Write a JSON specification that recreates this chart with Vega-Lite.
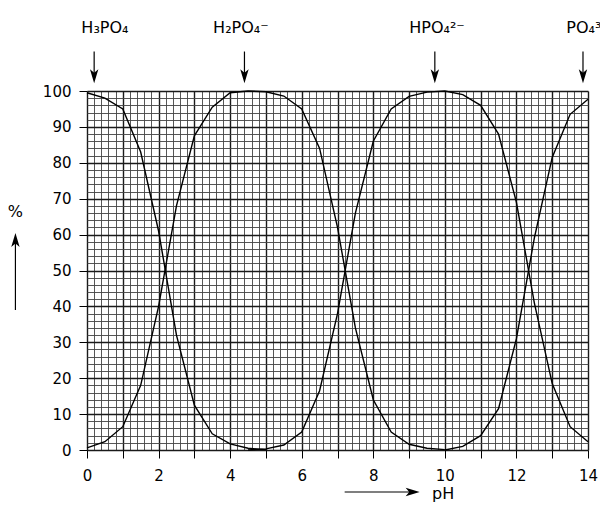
{
  "$schema": "https://vega.github.io/schema/vega-lite/v6.json",
  "autosize": {"type": "none"},
  "padding": {"left": 87, "top": 91, "right": 12, "bottom": 64},
  "width": 501,
  "height": 359,
  "background": "white",
  "config": {"view": {"stroke": null}, "font": "DejaVu Sans"},
  "datasets": {
    "curves": [
      {"species": "H3PO4", "pH": 0, "pct": 99.5},
      {"species": "H3PO4", "pH": 0.5, "pct": 98},
      {"species": "H3PO4", "pH": 1, "pct": 95},
      {"species": "H3PO4", "pH": 1.5, "pct": 83},
      {"species": "H3PO4", "pH": 2, "pct": 61},
      {"species": "H3PO4", "pH": 2.5, "pct": 32},
      {"species": "H3PO4", "pH": 3, "pct": 12.5},
      {"species": "H3PO4", "pH": 3.5, "pct": 4.5},
      {"species": "H3PO4", "pH": 4, "pct": 1.7},
      {"species": "H3PO4", "pH": 4.5, "pct": 0.5},
      {"species": "H3PO4", "pH": 5, "pct": 0.1},
      {"species": "H2PO4", "pH": 0, "pct": 0.6},
      {"species": "H2PO4", "pH": 0.5, "pct": 2.3},
      {"species": "H2PO4", "pH": 1, "pct": 6.5},
      {"species": "H2PO4", "pH": 1.5, "pct": 18},
      {"species": "H2PO4", "pH": 2, "pct": 40},
      {"species": "H2PO4", "pH": 2.5, "pct": 68},
      {"species": "H2PO4", "pH": 3, "pct": 87.5},
      {"species": "H2PO4", "pH": 3.5, "pct": 95.5},
      {"species": "H2PO4", "pH": 4, "pct": 99.5},
      {"species": "H2PO4", "pH": 4.5, "pct": 100},
      {"species": "H2PO4", "pH": 5, "pct": 99.8},
      {"species": "H2PO4", "pH": 5.5, "pct": 98.6},
      {"species": "H2PO4", "pH": 6, "pct": 95},
      {"species": "H2PO4", "pH": 6.5, "pct": 84},
      {"species": "H2PO4", "pH": 7, "pct": 62},
      {"species": "H2PO4", "pH": 7.5, "pct": 34},
      {"species": "H2PO4", "pH": 8, "pct": 14},
      {"species": "H2PO4", "pH": 8.5, "pct": 5},
      {"species": "H2PO4", "pH": 9, "pct": 1.6},
      {"species": "H2PO4", "pH": 9.5, "pct": 0.5},
      {"species": "H2PO4", "pH": 10, "pct": 0.1},
      {"species": "HPO4", "pH": 4.5, "pct": 0},
      {"species": "HPO4", "pH": 5, "pct": 0.3},
      {"species": "HPO4", "pH": 5.5, "pct": 1.4},
      {"species": "HPO4", "pH": 6, "pct": 5},
      {"species": "HPO4", "pH": 6.5, "pct": 16.5},
      {"species": "HPO4", "pH": 7, "pct": 38},
      {"species": "HPO4", "pH": 7.5, "pct": 66},
      {"species": "HPO4", "pH": 8, "pct": 86},
      {"species": "HPO4", "pH": 8.5, "pct": 95},
      {"species": "HPO4", "pH": 9, "pct": 98.5},
      {"species": "HPO4", "pH": 9.5, "pct": 99.7},
      {"species": "HPO4", "pH": 10, "pct": 100},
      {"species": "HPO4", "pH": 10.5, "pct": 99},
      {"species": "HPO4", "pH": 11, "pct": 96},
      {"species": "HPO4", "pH": 11.5, "pct": 88},
      {"species": "HPO4", "pH": 12, "pct": 69},
      {"species": "HPO4", "pH": 12.5, "pct": 41},
      {"species": "HPO4", "pH": 13, "pct": 18.5},
      {"species": "HPO4", "pH": 13.5, "pct": 6.5},
      {"species": "HPO4", "pH": 14, "pct": 2.3},
      {"species": "PO4", "pH": 10, "pct": 0},
      {"species": "PO4", "pH": 10.5, "pct": 1},
      {"species": "PO4", "pH": 11, "pct": 4},
      {"species": "PO4", "pH": 11.5, "pct": 11.5},
      {"species": "PO4", "pH": 12, "pct": 31},
      {"species": "PO4", "pH": 12.5, "pct": 59},
      {"species": "PO4", "pH": 13, "pct": 81.5},
      {"species": "PO4", "pH": 13.5, "pct": 93.5},
      {"species": "PO4", "pH": 14, "pct": 97.7}
    ],
    "labels": [
      {"name": "H₃PO₄", "label_pH": 0.5, "arrow_pH": 0.2},
      {"name": "H₂PO₄⁻", "label_pH": 4.3, "arrow_pH": 4.4},
      {"name": "HPO₄²⁻", "label_pH": 9.78, "arrow_pH": 9.72},
      {"name": "PO₄³⁻", "label_pH": 14.0, "arrow_pH": 13.86}
    ]
  },
  "layer": [
    {
      "data": {"name": "curves"},
      "mark": {"type": "line", "color": "black", "strokeWidth": 1.4, "clip": false},
      "encoding": {
        "x": {
          "field": "pH", "type": "quantitative", "title": null,
          "scale": {"domain": [0, 14], "nice": false, "zero": false},
          "axis": {
            "values": [0,0.2,0.4,0.6,0.8,1,1.2,1.4,1.6,1.8,2,2.2,2.4,2.6,2.8,3,3.2,3.4,3.6,3.8,4,4.2,4.4,4.6,4.8,5,5.2,5.4,5.6,5.8,6,6.2,6.4,6.6,6.8,7,7.2,7.4,7.6,7.8,8,8.2,8.4,8.6,8.8,9,9.2,9.4,9.6,9.8,10,10.2,10.4,10.6,10.8,11,11.2,11.4,11.6,11.8,12,12.2,12.4,12.6,12.8,13,13.2,13.4,13.6,13.8,14],
            "tickCount": 1000,
            "grid": true,
            "domain": false,
            "gridColor": {"condition": {"test": "abs(datum.value - round(datum.value)) < 0.001", "value": "#1a1a1a"}, "value": "#444444"},
            "gridWidth": {"condition": {"test": "abs(datum.value - round(datum.value)) < 0.001", "value": 1.4}, "value": 0.9},
            "tickOpacity": {"condition": {"test": "abs(datum.value - round(datum.value)) < 0.001", "value": 1}, "value": 0},
            "tickColor": "black",
            "tickSize": 8,
            "tickWidth": 1,
            "labelExpr": "abs(datum.value/2 - round(datum.value/2)) < 0.001 ? '' + round(datum.value) : ''",
            "labelOverlap": false,
            "labelFlush": false,
            "labelFontSize": 15,
            "labelColor": "black",
            "labelPadding": 10,
            "labelFont": "DejaVu Sans"
          }
        },
        "y": {
          "field": "pct", "type": "quantitative", "title": null,
          "scale": {"domain": [0, 100], "nice": false},
          "axis": {
            "values": [0,2,4,6,8,10,12,14,16,18,20,22,24,26,28,30,32,34,36,38,40,42,44,46,48,50,52,54,56,58,60,62,64,66,68,70,72,74,76,78,80,82,84,86,88,90,92,94,96,98,100],
            "tickCount": 1000,
            "grid": true,
            "domain": false,
            "gridColor": {"condition": {"test": "abs(datum.value/10 - round(datum.value/10)) < 0.001", "value": "#1a1a1a"}, "value": "#444444"},
            "gridWidth": {"condition": {"test": "abs(datum.value/10 - round(datum.value/10)) < 0.001", "value": 1.4}, "value": 0.9},
            "tickOpacity": {"condition": {"test": "abs(datum.value/10 - round(datum.value/10)) < 0.001", "value": 1}, "value": 0},
            "tickColor": "black",
            "tickSize": 8,
            "tickWidth": 1,
            "labelExpr": "abs(datum.value/10 - round(datum.value/10)) < 0.001 ? '' + round(datum.value) : ''",
            "labelOverlap": false,
            "labelFlush": false,
            "labelFontSize": 15,
            "labelColor": "black",
            "labelPadding": 8,
            "labelFont": "DejaVu Sans"
          }
        },
        "detail": {"field": "species"}
      }
    },
    {
      "data": {"name": "labels"},
      "mark": {"type": "text", "fontSize": 16, "font": "DejaVu Sans", "color": "black", "align": "center", "baseline": "middle", "clip": false},
      "encoding": {
        "x": {"field": "label_pH", "type": "quantitative", "scale": {"domain": [0, 14], "nice": false, "zero": false}},
        "y": {"datum": 117.5, "type": "quantitative", "scale": {"domain": [0, 100], "nice": false}},
        "text": {"field": "name"}
      }
    },
    {
      "data": {"name": "labels"},
      "mark": {"type": "rule", "color": "black", "strokeWidth": 1.2, "clip": false},
      "encoding": {
        "x": {"field": "arrow_pH", "type": "quantitative", "scale": {"domain": [0, 14], "nice": false, "zero": false}},
        "y": {"datum": 111, "type": "quantitative", "scale": {"domain": [0, 100], "nice": false}},
        "y2": {"datum": 104.5}
      }
    },
    {
      "data": {"name": "labels"},
      "mark": {"type": "point", "shape": "M0,1 L-0.6,-1 L0,-0.5 L0.6,-1 Z", "filled": true, "color": "black", "opacity": 1, "size": 196, "clip": false},
      "encoding": {
        "x": {"field": "arrow_pH", "type": "quantitative", "scale": {"domain": [0, 14], "nice": false, "zero": false}},
        "y": {"datum": 104.1, "type": "quantitative", "scale": {"domain": [0, 100], "nice": false}}
      }
    },
    {
      "data": {"values": [{"t": "%"}]},
      "mark": {"type": "text", "fontSize": 16, "font": "DejaVu Sans", "color": "black", "align": "center", "baseline": "middle", "clip": false},
      "encoding": {
        "x": {"datum": -2.0, "type": "quantitative", "scale": {"domain": [0, 14], "nice": false, "zero": false}},
        "y": {"datum": 66.3, "type": "quantitative", "scale": {"domain": [0, 100], "nice": false}},
        "text": {"field": "t"}
      }
    },
    {
      "data": {"values": [{"t": "pH"}]},
      "mark": {"type": "text", "fontSize": 16, "font": "DejaVu Sans", "color": "black", "align": "left", "baseline": "alphabetic", "clip": false},
      "encoding": {
        "x": {"datum": 9.64, "type": "quantitative", "scale": {"domain": [0, 14], "nice": false, "zero": false}},
        "y": {"datum": -13.7, "type": "quantitative", "scale": {"domain": [0, 100], "nice": false}},
        "text": {"field": "t"}
      }
    },
    {
      "data": {"values": [{"t": "%"}]},
      "mark": {"type": "rule", "color": "black", "strokeWidth": 1.2, "clip": false},
      "encoding": {
        "x": {"datum": -2.0, "type": "quantitative", "scale": {"domain": [0, 14], "nice": false, "zero": false}},
        "y": {"datum": 39, "type": "quantitative", "scale": {"domain": [0, 100], "nice": false}},
        "y2": {"datum": 58}
      }
    },
    {
      "data": {"values": [{"t": "%"}]},
      "mark": {"type": "point", "shape": "M0,-1 L-0.6,1 L0,0.5 L0.6,1 Z", "filled": true, "color": "black", "opacity": 1, "size": 196, "clip": false},
      "encoding": {
        "x": {"datum": -2.0, "type": "quantitative", "scale": {"domain": [0, 14], "nice": false, "zero": false}},
        "y": {"datum": 58.5, "type": "quantitative", "scale": {"domain": [0, 100], "nice": false}}
      }
    },
    {
      "data": {"values": [{"t": "pH"}]},
      "mark": {"type": "rule", "color": "black", "strokeWidth": 1.2, "clip": false},
      "encoding": {
        "x": {"datum": 7.2, "type": "quantitative", "scale": {"domain": [0, 14], "nice": false, "zero": false}},
        "x2": {"datum": 9.0},
        "y": {"datum": -11.7, "type": "quantitative", "scale": {"domain": [0, 100], "nice": false}}
      }
    },
    {
      "data": {"values": [{"t": "pH"}]},
      "mark": {"type": "point", "shape": "M1,0 L-1,-0.6 L-0.5,0 L-1,0.6 Z", "filled": true, "color": "black", "opacity": 1, "size": 196, "clip": false},
      "encoding": {
        "x": {"datum": 9.1, "type": "quantitative", "scale": {"domain": [0, 14], "nice": false, "zero": false}},
        "y": {"datum": -11.7, "type": "quantitative", "scale": {"domain": [0, 100], "nice": false}}
      }
    }
  ]
}
